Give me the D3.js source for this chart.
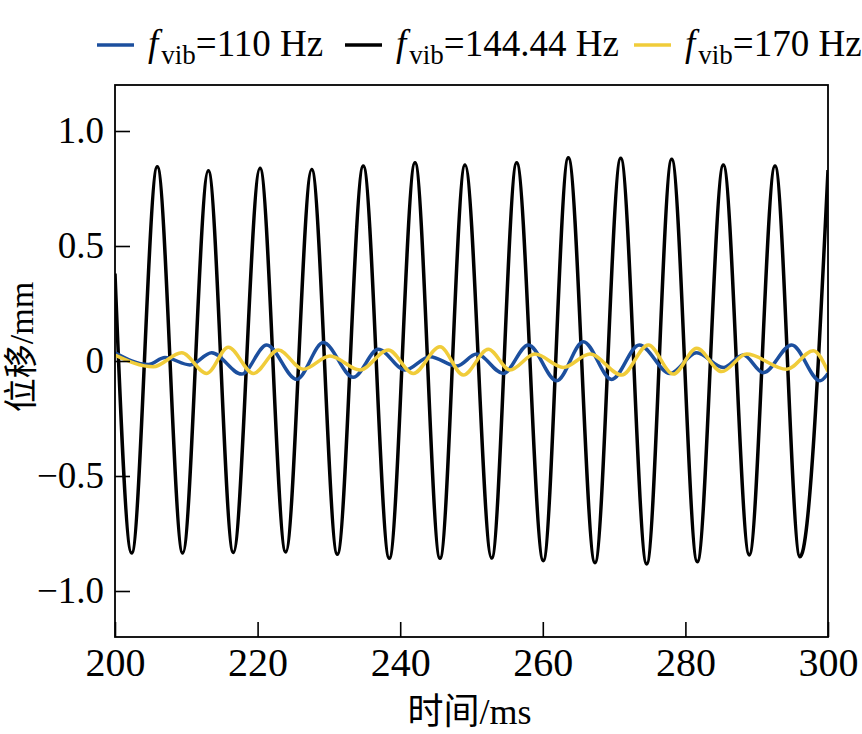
<!DOCTYPE html>
<html>
<head>
<meta charset="utf-8">
<script src="https://cdn.jsdelivr.net/npm/d3@7"></script>
<style>
  body { margin: 0; background: #fff; }
  .axis text { font-family: "Liberation Serif", "DejaVu Serif", serif; fill: #000; }
  .axis path, .axis line { stroke: #000; stroke-width: 1.6px; }
  .title { font-family: "Liberation Serif", "Noto Sans CJK SC", serif; fill: #000; }
  .line { fill: none; stroke-width: 3.5px; stroke-linejoin: round; }
</style>
</head>
<body>
<script>
// extrema (time in ms, displacement in mm)
var blackTime = [200, 202.34, 205.93, 209.49, 213.09, 216.59, 220.34, 223.94, 227.59, 231.18,
  234.82, 238.47, 242.08, 245.58, 249.09, 252.83, 256.34, 260.07, 263.58, 267.32,
  270.93, 274.57, 278.08, 281.67, 285.32, 288.96, 292.57, 296.07, 300];
var blackValue = [0.38, -0.835, 0.845, -0.835, 0.827, -0.833, 0.838, -0.83, 0.833, -0.84,
  0.848, -0.858, 0.862, -0.858, 0.852, -0.857, 0.862, -0.868, 0.884, -0.877,
  0.881, -0.883, 0.877, -0.873, 0.852, -0.843, 0.848, -0.851, 0.83];

var blueTime = [200, 204.67, 207.01, 210.52, 213.56, 217.77, 221.28, 225.48, 229.21, 233.42,
  236.93, 240.67, 244.18, 247.92, 250.73, 254.46, 257.97, 261.95, 265.68, 269.66,
  273.53, 277.84, 281.58, 285.32, 288.12, 290.93, 294.91, 298.88, 300];
var blueValue = [0.036, -0.015, 0.015, -0.017, 0.036, -0.057, 0.07, -0.08, 0.08, -0.071,
  0.051, -0.039, 0.019, -0.022, 0.03, -0.054, 0.07, -0.086, 0.084, -0.08,
  0.07, -0.054, 0.036, -0.028, 0.026, -0.051, 0.07, -0.086, -0.054];

var yellowTime = [200, 205.37, 209.35, 212.86, 215.89, 219.40, 222.90, 226.41, 230.15, 234.36,
  238.33, 241.84, 245.58, 248.85, 252.36, 255.40, 258.91, 262.88, 266.62, 271.07,
  274.80, 278.30, 281.58, 285.09, 288.60, 294.21, 297.94, 300];
var yellowValue = [0.026, -0.025, 0.036, -0.054, 0.06, -0.054, 0.048, -0.036, 0.022, -0.039,
  0.048, -0.054, 0.062, -0.061, 0.051, -0.039, 0.03, -0.028, 0.03, -0.061,
  0.07, -0.057, 0.055, -0.046, 0.03, -0.036, 0.045, -0.046];

var seriesNames = ["110 Hz", "144.44 Hz", "170 Hz"];
var seriesColors = ["#1c4f9e", "#000000", "#f0cc3a"];

var xTicks = [200, 220, 240, 260, 280, 300];
var yTicks = [-1.0, -0.5, 0, 0.5, 1.0];

var margin = {top: 85, right: 34, bottom: 97, left: 115},
    width = 862 - margin.left - margin.right,
    height = 734 - margin.top - margin.bottom;

var x = d3.scaleLinear().domain([200, 300]).range([0, width]);
var y = d3.scaleLinear().domain([-1.2, 1.2]).range([height, 0]);

var valueline = d3.line()
    .x(function(d) { return x(d[0]); })
    .y(function(d) { return y(d[1]); })
    .curve(d3.curveMonotoneX);

function pairs(t, v) { return t.map(function(d, i) { return [d, v[i]]; }); }

var svgRoot = d3.select("body").append("svg")
    .attr("width", 862)
    .attr("height", 734);

var svg = svgRoot.append("g")
    .attr("transform", "translate(" + margin.left + "," + margin.top + ")");

svg.append("clipPath").attr("id", "plotclip")
  .append("rect").attr("width", width).attr("height", height);

var plot = svg.append("g").attr("clip-path", "url(#plotclip)");

// black first, coloured on top
var drawOrder = [
  {data: pairs(blackTime, blackValue), color: seriesColors[1]},
  {data: pairs(blueTime, blueValue), color: seriesColors[0]},
  {data: pairs(yellowTime, yellowValue), color: seriesColors[2]}
];
drawOrder.forEach(function(s) {
  plot.append("path")
      .datum(s.data)
      .attr("class", "line")
      .attr("stroke", s.color)
      .attr("d", valueline);
});

// frame
svg.append("rect")
    .attr("width", width).attr("height", height)
    .attr("fill", "none").attr("stroke", "#000").attr("stroke-width", 1.8);

// axes, ticks pointing in
svg.append("g")
    .attr("class", "axis")
    .attr("transform", "translate(0," + height + ")")
    .call(d3.axisBottom(x).tickValues(xTicks).tickSize(-15).tickSizeOuter(0))
    .call(function(g) { g.select(".domain").remove(); })
    .selectAll("text").style("font-size", "40px").attr("y", 39).attr("dy", 0);

svg.append("g")
    .attr("class", "axis")
    .call(d3.axisLeft(y).tickValues(yTicks).tickSize(-15).tickPadding(11).tickSizeOuter(0)
      .tickFormat(function(d) { return d === 0 ? "0" : d3.format(".1f")(d); }))
    .call(function(g) { g.select(".domain").remove(); })
    .selectAll("text").style("font-size", "37px");

// axis titles
svg.append("text")
    .attr("class", "title")
    .attr("x", width / 2 - 2)
    .attr("y", height + 87)
    .attr("text-anchor", "middle")
    .style("font-size", "36px")
    .text("时间/ms");

svg.append("text")
    .attr("class", "title")
    .attr("transform", "translate(" + (-82) + "," + (height / 2 - 14) + ") rotate(-90)")
    .attr("text-anchor", "middle")
    .style("font-size", "34px")
    .text("位移/mm");

// legend
var legendX = [97, 345, 634];
var legend = svgRoot.append("g");
seriesNames.forEach(function(name, i) {
  var g = legend.append("g").attr("transform", "translate(" + legendX[i] + ",45)");
  g.append("line")
      .attr("x1", 0).attr("x2", 37)
      .attr("stroke", seriesColors[i]).attr("stroke-width", 3.5);
  var t = g.append("text")
      .attr("class", "title")
      .attr("x", 51).attr("y", 11)
      .style("font-size", "37px");
  t.append("tspan").style("font-style", "italic").text("f");
  t.append("tspan").attr("dx", 3).attr("dy", 8).style("font-size", "27px").text("vib");
  t.append("tspan").attr("dy", -8).text("=" + name);
});
</script>
</body>
</html>
